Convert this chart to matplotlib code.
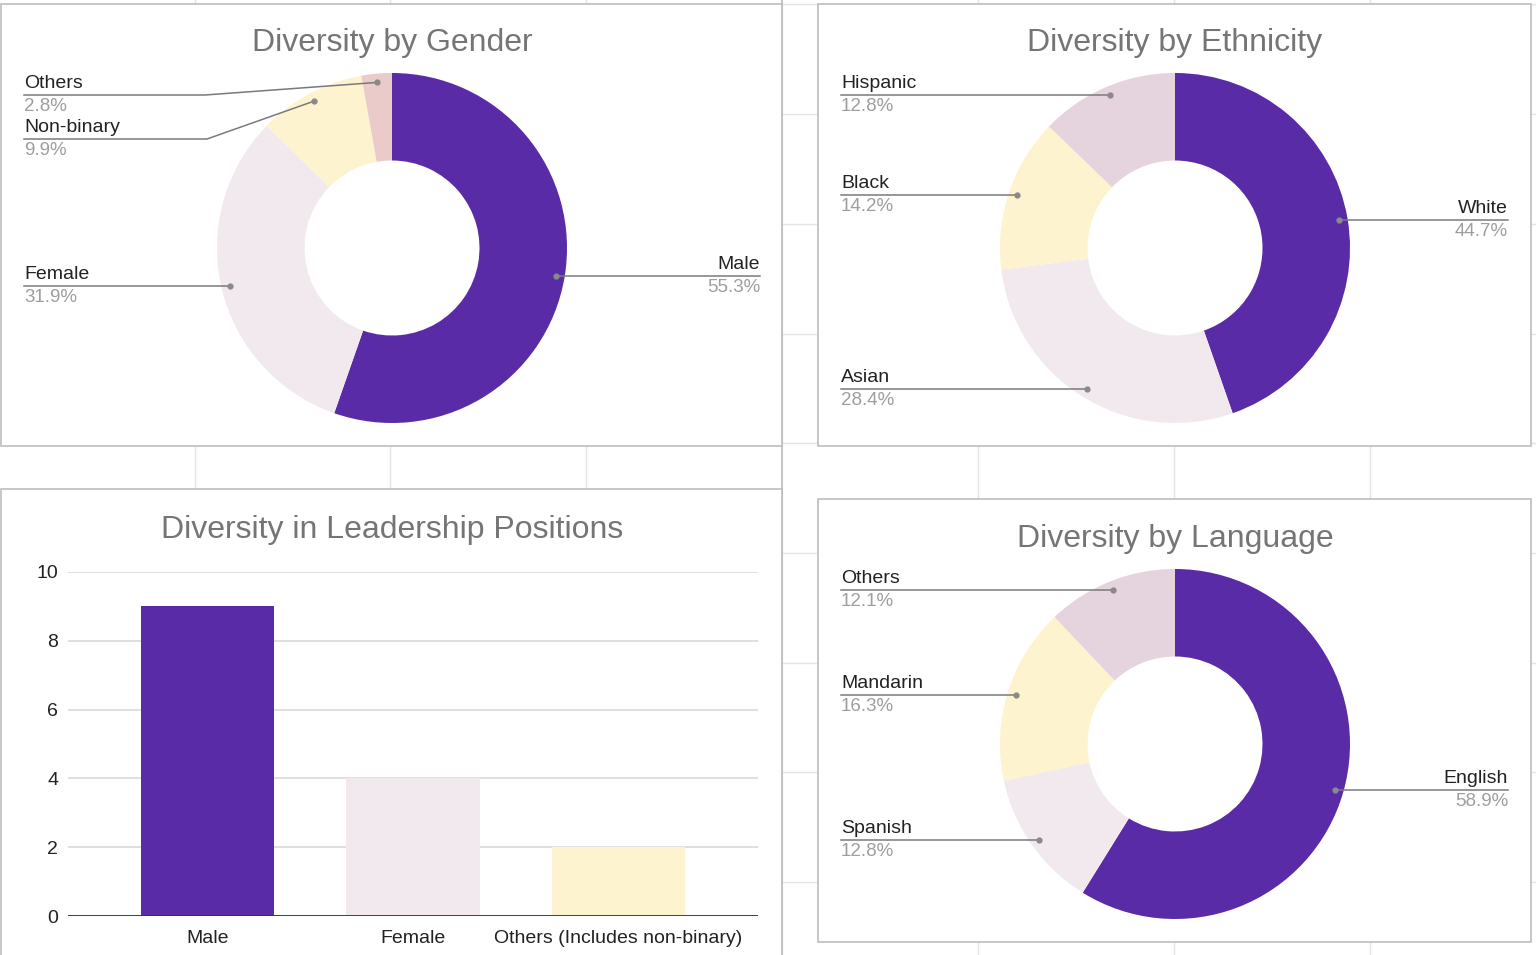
import matplotlib
matplotlib.use("Agg")
import numpy as np
import matplotlib.pyplot as plt
from matplotlib.patches import Rectangle

plt.rcParams['font.family'] = ['Liberation Sans', 'DejaVu Sans']

W, H = 1536, 955

# --- data ---
gender_labels = ["Male", "Female", "Non-binary", "Others"]
gender_values = [55.3, 31.9, 9.9, 2.8]

ethnicity_labels = ["White", "Asian", "Black", "Hispanic"]
ethnicity_values = [44.7, 28.4, 14.2, 12.8]

language_labels = ["English", "Spanish", "Mandarin", "Others"]
language_values = [58.9, 12.8, 16.3, 12.1]

leader_cats = ["Male", "Female", "Others (Includes non-binary)"]
leader_counts = [9, 4, 2]

PURPLE = "#5a2ba7"
LIGHT = "#f1e9ee"
YELLOW = "#fdf3cf"
MAUVE = "#e5d3de"
PINK = "#ebcaca"

TITLE_C = "#757575"
TEXT_C = "#222222"
PCT_C = "#9e9e9e"
LINE_C = "#7a7a7a"

TITLE_FS = 23
LABEL_FS = 14
PCT_FS = 13.5

fig = plt.figure(figsize=(W / 100, H / 100), dpi=100)
fig.patch.set_facecolor("white")

# background "spreadsheet" layer in pixel coordinates
bg = fig.add_axes([0, 0, 1, 1], zorder=0)
bg.set_xlim(0, W)
bg.set_ylim(H, 0)
bg.axis("off")

for x in [195, 390, 586, 978, 1174, 1370]:
    bg.plot([x, x], [0, H], color="#e4e4e4", lw=1)
for y in [4, 114, 224, 334, 443, 553, 663, 772, 882]:
    bg.plot([0, W], [y, y], color="#e4e4e4", lw=1)
bg.plot([782, 782], [0, H], color="#c4c4c4", lw=1.5)

panels = [(1, 4, 782, 446), (818, 4, 1531, 446),
          (1, 489, 782, 975), (818, 499, 1531, 942)]
for x0, y0, x1, y1 in panels:
    bg.add_patch(Rectangle((x0, y0), x1 - x0, y1 - y0, facecolor="white",
                           edgecolor="#bdbdbd", lw=1.2, zorder=2))

# overlay for texts and leader lines
ov = fig.add_axes([0, 0, 1, 1], zorder=10)
ov.set_xlim(0, W)
ov.set_ylim(H, 0)
ov.axis("off")
ov.patch.set_alpha(0)


def donut(cx, cy, r, values, labels, colors, title, title_y, left_x, right_x, specs):
    ax = fig.add_axes([(cx - r) / W, (H - cy - r) / H, 2 * r / W, 2 * r / H],
                      zorder=5)
    wedges, _ = ax.pie(values, colors=colors, startangle=90, counterclock=False,
                       wedgeprops=dict(width=0.5, edgecolor="none"))
    ax.set_xlim(-1, 1)
    ax.set_ylim(-1, 1)
    ax.axis("off")
    for w, lab, val, spec in zip(wedges, labels, values, specs):
        th = np.deg2rad((w.theta1 + w.theta2) / 2)
        dx, dy = 0.95 * np.cos(th), 0.95 * np.sin(th)
        px, py = cx + r * dx, cy - r * dy
        side, line_y, elbow = spec
        if line_y is None:
            line_y = py
        if side == "L":
            ex = px if elbow is None else elbow
            ov.plot([left_x, ex, px], [line_y, line_y, py], color=LINE_C, lw=1.1)
            tx, ha = left_x, "left"
        else:
            ov.plot([px, right_x], [line_y, line_y], color=LINE_C, lw=1.1)
            tx, ha = right_x, "right"
        ov.plot(px, py, "o", color="#8a8a8a", ms=3.5)
        ov.text(tx, line_y - 3, lab, ha=ha, va="bottom", fontsize=LABEL_FS,
                color=TEXT_C)
        ov.text(tx, line_y + 3, f"{val:.1f}%", ha=ha, va="top",
                fontsize=PCT_FS, color=PCT_C)
    ov.text(cx, title_y, title, ha="center", va="center", fontsize=TITLE_FS,
            color=TITLE_C)


donut(392, 248, 175, gender_values, gender_labels, [PURPLE, LIGHT, YELLOW, PINK],
      "Diversity by Gender", 43, 24, 760,
      [("R", None, None), ("L", None, None), ("L", 139, 207), ("L", 95, 205)])

donut(1175, 248, 175, ethnicity_values, ethnicity_labels,
      [PURPLE, LIGHT, YELLOW, MAUVE], "Diversity by Ethnicity", 43, 841, 1508,
      [("R", None, None), ("L", None, None), ("L", None, None), ("L", None, None)])

donut(1175, 744, 175, language_values, language_labels,
      [PURPLE, LIGHT, YELLOW, MAUVE], "Diversity by Language", 539, 841, 1508,
      [("R", None, None), ("L", None, None), ("L", None, None), ("L", None, None)])

# --- leadership bar chart ---
bx0, bx1, by_top, by_bot = 68, 758, 572, 916
bax = fig.add_axes([bx0 / W, (H - by_bot) / H, (bx1 - bx0) / W, (by_bot - by_top) / H],
                   zorder=5)
bax.patch.set_alpha(0)
xpos = np.arange(len(leader_cats))
bax.bar(xpos, leader_counts, width=0.65, color=[PURPLE, LIGHT, YELLOW], zorder=3)
bax.set_xlim(-0.68, len(leader_cats) - 1 + 0.68)
bax.set_ylim(0, 10)
bax.set_yticks([0, 2, 4, 6, 8, 10])
bax.set_xticks(xpos)
bax.set_xticklabels(leader_cats)
bax.grid(axis="y", color="#d9d9d9", lw=1.2, zorder=0)
bax.axhline(0, color="#333333", lw=1.3, zorder=4)
for s in bax.spines.values():
    s.set_visible(False)
bax.tick_params(length=0, labelsize=LABEL_FS, labelcolor=TEXT_C)
bax.tick_params(axis="y", pad=7)
bax.tick_params(axis="x", pad=10)
ov.text(392, 530, "Diversity in Leadership Positions", ha="center", va="center",
        fontsize=TITLE_FS, color=TITLE_C)

fig.savefig("out.png", dpi=100)
